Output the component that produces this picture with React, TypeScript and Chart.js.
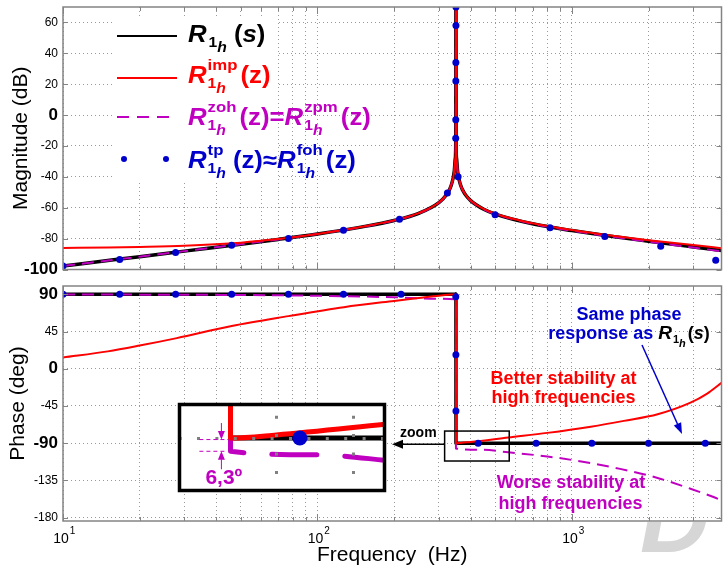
import React, { useEffect, useRef } from 'react';
import { Chart, registerables } from 'chart.js';

Chart.register(...registerables);

const FONT = "'Liberation Sans', Arial, Helvetica, sans-serif";
const C_BLACK = '#000000';
const C_RED = '#ff0000';
const C_MAG = '#c000c0';
const C_BLUE = '#0000cc';
const C_GRID = '#9a9a9a';
const C_FRAME = '#848484';

// ---------- frequency axis (Hz)
const F_MIN = 10;
const F_MAX = 3870;
const GRID_F = [10, 20, 30, 40, 50, 60, 70, 80, 90, 100, 200, 300, 400, 500, 600, 700, 800, 900, 1000, 2000, 3000];
const DECADES = [10, 100, 1000];
const DECADE_EXP = ['1', '2', '3'];

// ---------- magnitude (dB)
const MAG_MIN = -100;
const MAG_MAX = 70;
const MAG_STEP = 20;
const MAG_BOLD = [0, -100];

const F_MAG = [10, 15, 20, 30, 50, 70, 100, 150, 200, 250, 300, 320, 335, 345, 348, 349.5, 350, 350.5, 352, 355, 365, 380, 400, 450, 500, 700, 1000, 1500, 2000, 3000, 3870];
const MAG_S = [-97.7, -94.2, -91.7, -88.1, -83.6, -80.5, -77.0, -72.4, -68.3, -63.6, -56.7, -51.9, -45.7, -36.0, -28.0, -16.0, 120, -16.0, -28.0, -35.9, -45.3, -51.2, -55.4, -61.0, -64.1, -70.4, -74.8, -79.0, -81.7, -85.4, -87.7];
const MAG_IMP = [-86.0, -85.8, -85.4, -84.6, -82.6, -80.3, -77.0, -72.3, -68.2, -63.5, -56.6, -51.8, -45.6, -35.9, -27.9, -15.9, 120, -15.9, -27.9, -35.8, -45.2, -51.1, -55.3, -60.8, -63.9, -70.1, -74.4, -78.5, -81.0, -84.2, -86.2];
const MAG_ZOH = [-97.7, -94.2, -91.7, -88.1, -83.6, -80.5, -77.0, -72.4, -68.3, -63.6, -56.7, -51.9, -45.7, -36.0, -28.0, -16.0, 120, -16.0, -28.0, -35.9, -45.3, -51.2, -55.4, -61.0, -64.1, -70.4, -74.9, -79.2, -82.0, -85.8, -88.2];
const F_MAG_TP = [10, 16.7, 27.7, 46, 76.9, 126.5, 210, 324, 349.3, 349.55, 349.75, 349.85, 350.1, 350.2, 357, 499, 820, 1346, 2233, 3673];
const MAG_TP = [-97.8, -93.5, -89.0, -84.3, -80.0, -74.6, -67.5, -50.5, -15, -3, 22, 34, 58, 70, -40, -64.5, -73.0, -78.7, -85.0, -94.0];

// ---------- phase (deg)
const PH_MIN = -184;
const PH_MAX = 100;
const PH_STEP = 45;
const PH_BOLD = [90, 0, -90];

const F_PH_S = [10, 350, 350.1, 3870];
const PH_S = [90, 90, -90, -90];
const F_PH_IMP = [10, 15, 20, 28, 46, 77, 127, 200, 250, 300, 340, 350, 350.1, 400, 562, 800, 1186, 1600, 2172, 2923, 3400, 3870];
const PH_IMP = [13.6, 21.0, 28.0, 37.0, 51.6, 63.6, 74.4, 82.0, 85.5, 88.3, 89.6, 89.8, -90.0, -88.5, -83.0, -77.5, -70.0, -63.0, -55.0, -41.0, -30.0, -17.0];
const F_PH_ZOH = [10, 50, 100, 200, 300, 350, 350.1, 450, 562, 800, 1186, 1546, 2172, 2923, 3600, 3870];
const PH_ZOH = [89.8, 89.1, 88.2, 86.4, 84.6, 83.7, -96.3, -98.0, -101.0, -106.0, -114.0, -121.0, -132.0, -145.0, -155.0, -159.0];
const F_PH_TP = [10, 16.7, 27.7, 46, 76.9, 126.5, 213, 349.6, 349.9, 350.05, 428, 723, 1197, 2000, 3342];
const PH_TP = [90, 90, 90, 90, 90, 90, 90, 87, 17, -51, -90, -90, -90, -90, -90];

// ---------- zoom
const ZOOM_MARK_F = [316, 567];
const ZOOM_MARK_PH = [-111.5, -75.3];
const ZOOM_F = [302, 547];
const ZOOM_PH = [-115, -74];
const RES_F = 350;

// ---------- page layout
const PH_TOP = 280;
const INSET_LEFT = 172;
const INSET_TOP = 397;

const pts = (xs: number[], ys: number[]) => xs.map((x, i) => ({ x, y: ys[i] }));

function lineDs(data: any[], color: string, width: number, order: number, dash: number[] = [], smooth = true, extra: any = {}) {
  return {
    data,
    borderColor: color,
    backgroundColor: color,
    borderWidth: width,
    borderDash: dash,
    pointRadius: 0,
    pointHoverRadius: 0,
    fill: false,
    tension: 0,
    cubicInterpolationMode: smooth ? 'monotone' : 'default',
    borderJoinStyle: 'round',
    order,
    ...extra,
  };
}

function dotDs(data: any[], radius: number, order: number, extra: any = {}) {
  return {
    data,
    showLine: false,
    borderColor: C_BLUE,
    backgroundColor: C_BLUE,
    pointBackgroundColor: C_BLUE,
    pointBorderColor: C_BLUE,
    pointBorderWidth: 0,
    pointRadius: radius,
    pointHoverRadius: radius,
    order,
    ...extra,
  };
}

// ---------- rich text helpers
type Seg = { t: string; size: number; it?: boolean; dy?: number; color?: string };

function segsRun(ctx: CanvasRenderingContext2D, segs: Seg[], x: number, y: number, sx: number, color: string, draw: boolean) {
  let cx = x;
  for (const s of segs) {
    ctx.font = `${s.it ? 'italic ' : ''}bold ${s.size}px ${FONT}`;
    const w = ctx.measureText(s.t).width * sx;
    if (draw) {
      ctx.save();
      ctx.fillStyle = s.color || color;
      ctx.translate(cx, y + (s.dy || 0));
      ctx.scale(sx, 1);
      ctx.fillText(s.t, 0, 0);
      ctx.restore();
    }
    cx += w;
  }
  return cx - x;
}

function rich(ctx: CanvasRenderingContext2D, pieces: any[], x: number, y: number, sx: number, color: string, draw = true) {
  let cx = x;
  for (const p of pieces) {
    if ('sp' in p) cx += p.sp;
    else if ('t' in p) cx += segsRun(ctx, [p], cx, y, sx, color, draw);
    else {
      const a = p.sup ? segsRun(ctx, p.sup, cx, y, sx, color, draw) : 0;
      const b = p.sub ? segsRun(ctx, p.sub, cx, y, sx, color, draw) : 0;
      cx += Math.max(a, b);
    }
  }
  return cx - x;
}

function richCenter(ctx: CanvasRenderingContext2D, pieces: any[], cx: number, y: number, sx: number, color: string) {
  const w = rich(ctx, pieces, 0, y, sx, color, false);
  rich(ctx, pieces, cx - w / 2, y, sx, color, true);
}

const SUB = (size = 14, dy1 = 5, dy2 = 10, color?: string) => [
  { t: '1', size, dy: dy1, color },
  { t: 'h', size, it: true, dy: dy2, color },
];
const LR = { t: 'R', size: 23, it: true };
const SUP = (t: string) => [{ t, size: 15, dy: -13 }];

const LEGEND_ROWS = [
  [LR, { sp: 2 }, { sub: SUB() }, { sp: 7 }, { t: '(', size: 23 }, { t: 's', size: 23, it: true }, { t: ')', size: 23 }],
  [LR, { sp: 1 }, { sup: SUP('imp'), sub: SUB() }, { sp: 3 }, { t: '(z)', size: 23 }],
  [LR, { sp: 1 }, { sup: SUP('zoh'), sub: SUB() }, { sp: 3 }, { t: '(z)=', size: 23 }, LR, { sp: 1 }, { sup: SUP('zpm'), sub: SUB() }, { sp: 3 }, { t: '(z)', size: 23 }],
  [LR, { sp: 1 }, { sup: SUP('tp'), sub: SUB() }, { sp: 7 }, { t: '(z)\u2248', size: 23 }, LR, { sp: 1 }, { sup: SUP('foh'), sub: SUB() }, { sp: 3 }, { t: '(z)', size: 23 }],
];
const LEGEND_COLORS = [C_BLACK, C_RED, C_MAG, C_BLUE];
const LEGEND_BASE = [42, 83, 125, 168];

function arrow(ctx: CanvasRenderingContext2D, x1: number, y1: number, x2: number, y2: number, color: string, lw: number, head: number, hw: number) {
  const ang = Math.atan2(y2 - y1, x2 - x1);
  const bx = x2 - head * Math.cos(ang);
  const by = y2 - head * Math.sin(ang);
  ctx.strokeStyle = color;
  ctx.lineWidth = lw;
  ctx.beginPath();
  ctx.moveTo(x1, y1);
  ctx.lineTo(bx, by);
  ctx.stroke();
  ctx.fillStyle = color;
  ctx.beginPath();
  ctx.moveTo(x2, y2);
  ctx.lineTo(bx + hw * Math.sin(ang), by - hw * Math.cos(ang));
  ctx.lineTo(bx - hw * Math.sin(ang), by + hw * Math.cos(ang));
  ctx.closePath();
  ctx.fill();
}

// ---------- plugins
const framePlugin = {
  id: 'frame',
  afterDatasetsDraw(chart: any) {
    const { ctx, chartArea: a, scales } = chart;
    ctx.save();
    ctx.strokeStyle = C_FRAME;
    ctx.lineWidth = 1;
    ctx.beginPath();
    for (const v of GRID_F) {
      const px = Math.round(scales.x.getPixelForValue(v)) + 0.5;
      const L = DECADES.includes(v) ? 7 : 4;
      ctx.moveTo(px, a.top);
      ctx.lineTo(px, a.top + L);
      ctx.moveTo(px, a.bottom);
      ctx.lineTo(px, a.bottom - L);
    }
    for (const t of scales.y.ticks) {
      const py = Math.round(scales.y.getPixelForValue(t.value)) + 0.5;
      ctx.moveTo(a.left, py);
      ctx.lineTo(a.left + 5, py);
      ctx.moveTo(a.right, py);
      ctx.lineTo(a.right - 5, py);
    }
    ctx.stroke();
    ctx.lineWidth = 1.5;
    ctx.strokeRect(a.left, a.top, a.right - a.left, a.bottom - a.top);
    ctx.restore();
  },
};

const legendPlugin = {
  id: 'magLegend',
  afterDraw(chart: any) {
    const ctx: CanvasRenderingContext2D = chart.ctx;
    ctx.save();
    ctx.fillStyle = '#ffffff';
    ctx.fillRect(112, 17, 166, 166);
    ctx.lineWidth = 2;
    ctx.strokeStyle = C_BLACK;
    ctx.beginPath(); ctx.moveTo(117, 36); ctx.lineTo(177, 36); ctx.stroke();
    ctx.strokeStyle = C_RED;
    ctx.beginPath(); ctx.moveTo(117, 78); ctx.lineTo(177, 78); ctx.stroke();
    ctx.strokeStyle = C_MAG;
    ctx.setLineDash([12, 8]);
    ctx.beginPath(); ctx.moveTo(117, 117); ctx.lineTo(177, 117); ctx.stroke();
    ctx.setLineDash([]);
    ctx.fillStyle = C_BLUE;
    for (const x of [124, 166]) {
      ctx.beginPath(); ctx.arc(x, 159, 3, 0, Math.PI * 2); ctx.fill();
    }
    ctx.textAlign = 'left';
    ctx.textBaseline = 'alphabetic';
    LEGEND_ROWS.forEach((row, i) => rich(ctx, row, 188, LEGEND_BASE[i], 1.12, LEGEND_COLORS[i]));
    ctx.restore();
  },
};

const phaseDecor = {
  id: 'phaseDecor',
  afterDraw(chart: any) {
    const ctx: CanvasRenderingContext2D = chart.ctx;
    const xs = chart.scales.x;
    const ys = chart.scales.y;
    const a = chart.chartArea;
    ctx.save();
    ctx.textAlign = 'left';
    ctx.textBaseline = 'alphabetic';
    // decade tick labels 10^n
    DECADES.forEach((v, i) => {
      const px = xs.getPixelForValue(v);
      ctx.fillStyle = '#000';
      ctx.font = `14px ${FONT}`;
      const w = ctx.measureText('10').width;
      ctx.fillText('10', px - 2 - w / 2, a.bottom + 22);
      ctx.font = `10px ${FONT}`;
      ctx.fillText(DECADE_EXP[i], px - 2 + w / 2 + 1, a.bottom + 13);
    });
    // zoom marker box + arrow
    const zx1 = xs.getPixelForValue(ZOOM_MARK_F[0]);
    const zx2 = xs.getPixelForValue(ZOOM_MARK_F[1]);
    const zy1 = ys.getPixelForValue(ZOOM_MARK_PH[1]);
    const zy2 = ys.getPixelForValue(ZOOM_MARK_PH[0]);
    ctx.strokeStyle = '#000';
    ctx.lineWidth = 1.5;
    ctx.strokeRect(zx1, zy1, zx2 - zx1, zy2 - zy1);
    const ay = ys.getPixelForValue(-90) + 1;
    const tipX = INSET_LEFT + 220;
    arrow(ctx, zx1, ay, tipX, ay, '#000', 1.5, 11, 4.5);
    ctx.fillStyle = '#000';
    ctx.font = `bold 14px ${FONT}`;
    ctx.textAlign = 'center';
    ctx.fillText('zoom', (zx1 + tipX) / 2, ay - 7);
    ctx.textAlign = 'left';

    // page coordinates from here
    ctx.translate(0, -PH_TOP);
    // watermark
    ctx.save();
    ctx.beginPath();
    ctx.rect(0, 522, 725, 44);
    ctx.clip();
    ctx.font = `italic bold 96px ${FONT}`;
    ctx.fillStyle = '#d6d6d6';
    ctx.fillText('D', 640, 552);
    ctx.restore();

    // annotations
    richCenter(ctx, [{ t: 'Same phase', size: 18 }], 629, 320, 1, C_BLUE);
    richCenter(ctx, [
      { t: 'response as ', size: 18 },
      { t: 'R', size: 19, it: true, color: C_BLACK },
      { sp: 1 },
      { sub: SUB(11, 4, 8, C_BLACK) },
      { sp: 2 },
      { t: '(', size: 18, color: C_BLACK },
      { t: 's', size: 18, it: true, color: C_BLACK },
      { t: ')', size: 18, color: C_BLACK },
    ], 629, 339, 1, C_BLUE);
    arrow(ctx, 642, 345, 682, 434, C_BLUE, 1.5, 11, 4);

    richCenter(ctx, [{ t: 'Better stability at', size: 18 }], 563.5, 384, 1, C_RED);
    richCenter(ctx, [{ t: 'high frequencies', size: 18 }], 563.5, 403, 1, C_RED);
    richCenter(ctx, [{ t: 'Worse stability at', size: 18 }], 571, 488, 1, C_MAG);
    richCenter(ctx, [{ t: 'high frequencies', size: 18 }], 570.5, 509, 1, C_MAG);
    ctx.restore();
  },
};

const insetPlugin = {
  id: 'insetDecor',
  beforeDraw(chart: any) {
    const { ctx, chartArea: a } = chart;
    ctx.save();
    ctx.fillStyle = '#ffffff';
    ctx.fillRect(a.left, a.top, a.right - a.left, a.bottom - a.top);
    ctx.restore();
  },
  afterDraw(chart: any) {
    const ctx: CanvasRenderingContext2D = chart.ctx;
    const { chartArea: a } = chart;
    const xs = chart.scales.x;
    const ys = chart.scales.y;
    ctx.save();
    ctx.strokeStyle = '#000';
    ctx.lineWidth = 3.5;
    ctx.strokeRect(a.left, a.top, a.right - a.left, a.bottom - a.top);
    // 6.3 deg dimension
    const iRes = F_PH_ZOH.indexOf(RES_F) + 1;
    const rx = xs.getPixelForValue(RES_F);
    const yA = ys.getPixelForValue(PH_S[2]);
    const yB = ys.getPixelForValue(PH_ZOH[iRes]);
    ctx.strokeStyle = C_MAG;
    ctx.fillStyle = C_MAG;
    ctx.lineWidth = 1;
    ctx.setLineDash([4, 3]);
    ctx.beginPath();
    ctx.moveTo(rx - 31, yA + 1.5); ctx.lineTo(rx - 2, yA + 1.5);
    ctx.moveTo(rx - 31, yB); ctx.lineTo(rx - 4, yB);
    ctx.stroke();
    ctx.setLineDash([]);
    const vx = rx - 9;
    ctx.beginPath();
    ctx.moveTo(vx, yA - 15); ctx.lineTo(vx, yA - 6);
    ctx.moveTo(vx, yB + 8); ctx.lineTo(vx, yB + 18);
    ctx.stroke();
    ctx.beginPath();
    ctx.moveTo(vx, yA + 1.5); ctx.lineTo(vx - 3.5, yA - 7); ctx.lineTo(vx + 3.5, yA - 7); ctx.closePath();
    ctx.moveTo(vx, yB); ctx.lineTo(vx - 3.5, yB + 8.5); ctx.lineTo(vx + 3.5, yB + 8.5); ctx.closePath();
    ctx.fill();
    const diff = (PH_S[2] - PH_ZOH[iRes]).toFixed(1).replace('.', ',');
    ctx.textAlign = 'left';
    ctx.textBaseline = 'alphabetic';
    ctx.font = `bold 21px ${FONT}`;
    ctx.fillText(`${diff}\u00BA`, rx - 25, yB + 33);
    ctx.restore();
  },
};

// ---------- scale builders
function xScale(min: number, max: number, height: number, extra: any = {}) {
  return {
    type: 'logarithmic',
    min,
    max,
    afterBuildTicks: (s: any) => {
      s.ticks = GRID_F.filter((v) => v >= min && v <= max).map((v) => ({ value: v }));
    },
    ticks: { display: false },
    grid: { color: C_GRID, lineWidth: 1, drawTicks: false },
    border: { display: false, dash: [1, 3] },
    afterFit: (s: any) => {
      s.height = height;
      s.paddingLeft = 0;
      s.paddingRight = 0;
    },
    ...extra,
  };
}

function yScale(min: number, max: number, step: number, bold: number[], title: string, titlePad: number) {
  return {
    type: 'linear',
    min,
    max,
    ticks: {
      stepSize: step,
      includeBounds: false,
      padding: 5,
      color: '#000',
      autoSkip: false,
      font: (c: any) =>
        c && c.tick && bold.includes(c.tick.value)
          ? { family: FONT, size: 17, weight: 'bold', lineHeight: 1 }
          : { family: FONT, size: 12, weight: 'normal', lineHeight: 1 },
    },
    grid: { color: C_GRID, lineWidth: 1, drawTicks: false },
    border: { display: false, dash: [1, 3] },
    title: {
      display: true,
      text: title,
      color: '#000',
      font: { family: FONT, size: 21, lineHeight: 1 },
      padding: { top: titlePad, bottom: 0 },
    },
    afterFit: (s: any) => {
      s.width = 63;
      s.paddingTop = 0;
      s.paddingBottom = 0;
    },
  };
}

const baseOpts = {
  responsive: false,
  maintainAspectRatio: false,
  animation: false,
  events: [],
  plugins: { legend: { display: false }, tooltip: { enabled: false } },
};

function makeMag(canvas: HTMLCanvasElement) {
  return new Chart(canvas, {
    type: 'line',
    data: {
      datasets: [
        dotDs(pts(F_MAG_TP, MAG_TP), 3.5, 0),
        lineDs(pts(F_MAG, MAG_IMP), C_RED, 2, 1),
        lineDs(pts(F_MAG, MAG_ZOH), C_MAG, 2, 2, [12, 7]),
        lineDs(pts(F_MAG, MAG_S), C_BLACK, 3.5, 3),
      ],
    },
    options: {
      ...baseOpts,
      layout: { padding: { left: 0, right: 1, top: 7, bottom: 10.5 } },
      scales: {
        x: xScale(F_MIN, F_MAX, 0),
        y: yScale(MAG_MIN, MAG_MAX, MAG_STEP, MAG_BOLD, 'Magnitude (dB)', 11),
      },
    } as any,
    plugins: [framePlugin, legendPlugin],
  } as any);
}

function makePhase(canvas: HTMLCanvasElement) {
  return new Chart(canvas, {
    type: 'line',
    data: {
      datasets: [
        dotDs(pts(F_PH_TP, PH_TP), 3.5, 0),
        lineDs(pts(F_PH_IMP, PH_IMP), C_RED, 2, 1),
        lineDs(pts(F_PH_ZOH, PH_ZOH), C_MAG, 2, 2, [12, 7]),
        lineDs(pts(F_PH_S, PH_S), C_BLACK, 3.5, 3, [], false),
      ],
    },
    options: {
      ...baseOpts,
      layout: { padding: { left: 0, right: 1, top: 6, bottom: 0 } },
      scales: {
        x: xScale(F_MIN, F_MAX, 45, {
          title: {
            display: true,
            text: 'Frequency  (Hz)',
            color: '#000',
            font: { family: FONT, size: 21, lineHeight: 1 },
            padding: { top: 0, bottom: 0 },
          },
        }),
        y: yScale(PH_MIN, PH_MAX, PH_STEP, PH_BOLD, 'Phase (deg)', 7.5),
      },
    } as any,
    plugins: [framePlugin, phaseDecor],
  } as any);
}

function makeInset(canvas: HTMLCanvasElement) {
  const iRes = F_PH_ZOH.indexOf(RES_F);
  const zohPost = pts(F_PH_ZOH, PH_ZOH).slice(iRes);
  const gridOpts = { color: '#808080', lineWidth: 3, drawTicks: false, z: 1 };
  return new Chart(canvas, {
    type: 'line',
    data: {
      datasets: [
        dotDs(pts(F_PH_TP, PH_TP), 7.5, 0, { clip: 0 }),
        lineDs(pts(F_PH_IMP, PH_IMP), C_RED, 5, 1, [], true, { clip: 0 }),
        lineDs(zohPost, C_MAG, 5, 2, [45, 28], true, { clip: 0, borderDashOffset: 19, borderCapStyle: 'round' }),
        lineDs(pts(F_PH_S, PH_S), C_BLACK, 5, 3, [], false, { clip: 0 }),
      ],
    },
    options: {
      ...baseOpts,
      layout: { padding: 2 },
      scales: {
        x: {
          type: 'logarithmic',
          min: ZOOM_F[0],
          max: ZOOM_F[1],
          z: 1,
          afterBuildTicks: (s: any) => {
            s.ticks = GRID_F.filter((v) => v > ZOOM_F[0] && v < ZOOM_F[1]).map((v) => ({ value: v }));
          },
          ticks: { display: false },
          grid: gridOpts,
          border: { display: false, dash: [3, 15.4], dashOffset: 7.2 },
          afterFit: (s: any) => { s.height = 0; s.paddingLeft = 0; s.paddingRight = 0; },
        },
        y: {
          type: 'linear',
          min: ZOOM_PH[0],
          max: ZOOM_PH[1],
          z: 1,
          ticks: { display: false, stepSize: PH_STEP, includeBounds: false },
          grid: gridOpts,
          border: { display: false, dash: [3, 15.4], dashOffset: 1.4 },
          afterFit: (s: any) => { s.width = 0; s.paddingTop = 0; s.paddingBottom = 0; },
        },
      },
    } as any,
    plugins: [insetPlugin],
  } as any);
}

export default function App() {
  const magRef = useRef<HTMLCanvasElement>(null);
  const phRef = useRef<HTMLCanvasElement>(null);
  const zoomRef = useRef<HTMLCanvasElement>(null);

  useEffect(() => {
    const charts = [makeMag(magRef.current!), makePhase(phRef.current!), makeInset(zoomRef.current!)];
    return () => charts.forEach((c) => c.destroy());
  }, []);

  return (
    <div style={{ position: 'absolute', left: 0, top: 0, width: 725, height: 566, background: '#fff', overflow: 'hidden' }}>
      <canvas ref={magRef} width={725} height={280} style={{ position: 'absolute', left: 0, top: 0, width: 725, height: 280 }} />
      <canvas ref={phRef} width={725} height={286} style={{ position: 'absolute', left: 0, top: PH_TOP, width: 725, height: 286 }} />
      <canvas ref={zoomRef} width={220} height={101} style={{ position: 'absolute', left: INSET_LEFT, top: INSET_TOP, width: 220, height: 101 }} />
    </div>
  );
}
